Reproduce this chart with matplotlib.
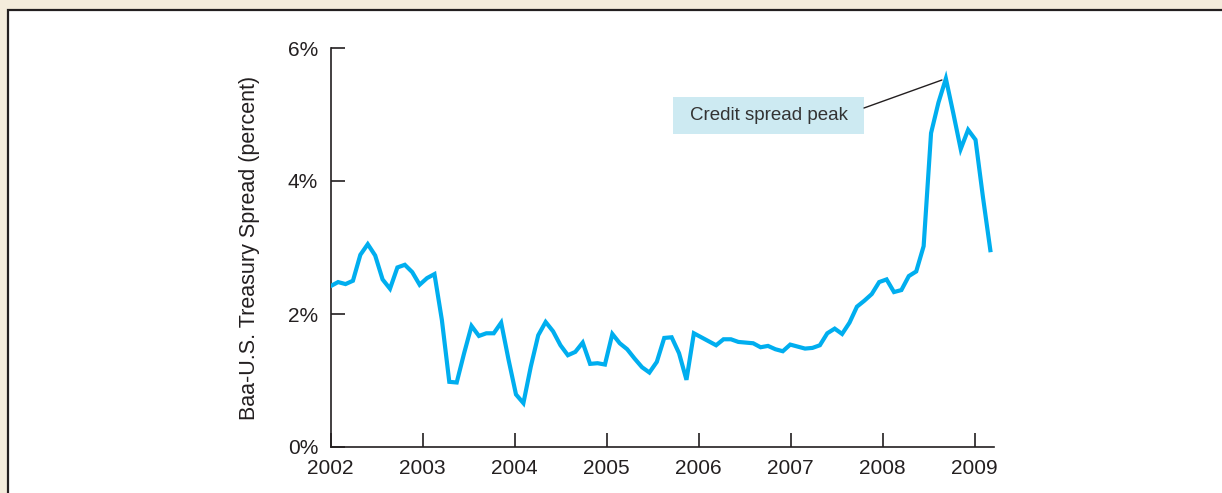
import numpy as np
import matplotlib
matplotlib.use("Agg")
import matplotlib.pyplot as plt
from matplotlib.patches import Rectangle

plt.rcParams['font.family'] = ['Liberation Sans', 'DejaVu Sans']

# ---- data (monthly Baa - U.S. Treasury spread, percent) ----
spread = [2.42, 2.48, 2.45, 2.50, 2.89, 3.05, 2.88, 2.52, 2.38, 2.70, 2.74, 2.63,
          2.44, 2.54, 2.60, 1.91, 0.98, 0.97, 1.41, 1.82, 1.67, 1.71, 1.71, 1.87,
          1.31, 0.79, 0.66, 1.21, 1.68, 1.88, 1.74, 1.53, 1.38, 1.43, 1.57, 1.25,
          1.26, 1.24, 1.70, 1.56, 1.47, 1.33, 1.20, 1.12, 1.28, 1.64, 1.65, 1.41,
          1.01, 1.71, 1.65, 1.59, 1.53, 1.62, 1.62, 1.58, 1.57, 1.56, 1.50, 1.52,
          1.47, 1.44, 1.54, 1.51, 1.48, 1.49, 1.53, 1.71, 1.78, 1.70, 1.87, 2.11,
          2.20, 2.30, 2.48, 2.52, 2.33, 2.36, 2.57, 2.64, 3.02, 4.72, 5.18, 5.54,
          5.02, 4.48, 4.77, 4.62, 3.76, 2.96]
date_start = 2002.0
date_end = 2009.17
years = list(range(2002, 2010))
year_labels = [str(y) for y in years]
y_ticks = [0, 2, 4, 6]
y_tick_labels = ["0%", "2%", "4%", "6%"]
annotation_text = "Credit spread peak"

dates = np.linspace(date_start, date_end, len(spread))

W, H = 1222, 493
fig = plt.figure(figsize=(W / 100, H / 100), dpi=100)
fig.patch.set_facecolor('#F4ECDC')

ink = '#231F20'
panel = Rectangle((8 / W, -0.1), 1.2, (H - 10) / H + 0.1, transform=fig.transFigure,
                  facecolor='white', edgecolor=ink, lw=1.6, zorder=-10)
fig.patches.append(panel)

ax_left, ax_right = 330.7, 994
ax_bottom, ax_top = 447, 48
ax = fig.add_axes([ax_left / W, (H - ax_bottom) / H,
                   (ax_right - ax_left) / W, (ax_bottom - ax_top) / H])
ax.set_facecolor('none')
ax.set_zorder(5)

ax.plot(dates, spread, color='#00AEEF', lw=3.0, solid_joinstyle='miter', zorder=3)

ax.set_xlim(2002, 2002 + (ax_right - ax_left) / 92.0)
ax.set_ylim(0, 6)
for s in ['top', 'right']:
    ax.spines[s].set_visible(False)
for s in ['left', 'bottom']:
    ax.spines[s].set_color(ink)
    ax.spines[s].set_linewidth(1.2)

ax.set_xticks(years)
ax.set_xticklabels(year_labels)
ax.set_yticks(y_ticks)
ax.set_yticklabels(y_tick_labels)
ax.tick_params(axis='both', direction='in', length=10, width=1.2, color=ink,
               labelcolor=ink, labelsize=15)
ax.tick_params(axis='x', pad=9)
ax.tick_params(axis='y', pad=9)

fig.text(249 / W, 0.498, "Baa-U.S. Treasury Spread (percent)", rotation=90,
         ha='center', va='center', fontsize=15.5, color=ink)

# annotation box
peak_i = int(np.argmax(spread))
bx0, bx1 = 2002 + (673 - ax_left) / 92.0, 2002 + (864 - ax_left) / 92.0
by0, by1 = (ax_bottom - 134) / 66.5, (ax_bottom - 97) / 66.5
ax.add_patch(Rectangle((bx0, by0), bx1 - bx0, by1 - by0, facecolor='#CDEAF2',
                       edgecolor='none', zorder=2))
ax.text((bx0 + bx1) / 2, (by0 + by1) / 2, annotation_text, ha='center', va='center',
        fontsize=13.5, color='#333333', zorder=4)
ax.annotate("", xy=(dates[peak_i], spread[peak_i]), xytext=(bx1, (ax_bottom - 108) / 66.5),
            arrowprops=dict(arrowstyle='-', color=ink, lw=1.0, shrinkA=0, shrinkB=3),
            zorder=2)

fig.savefig('out.png', dpi=100, facecolor=fig.get_facecolor())
